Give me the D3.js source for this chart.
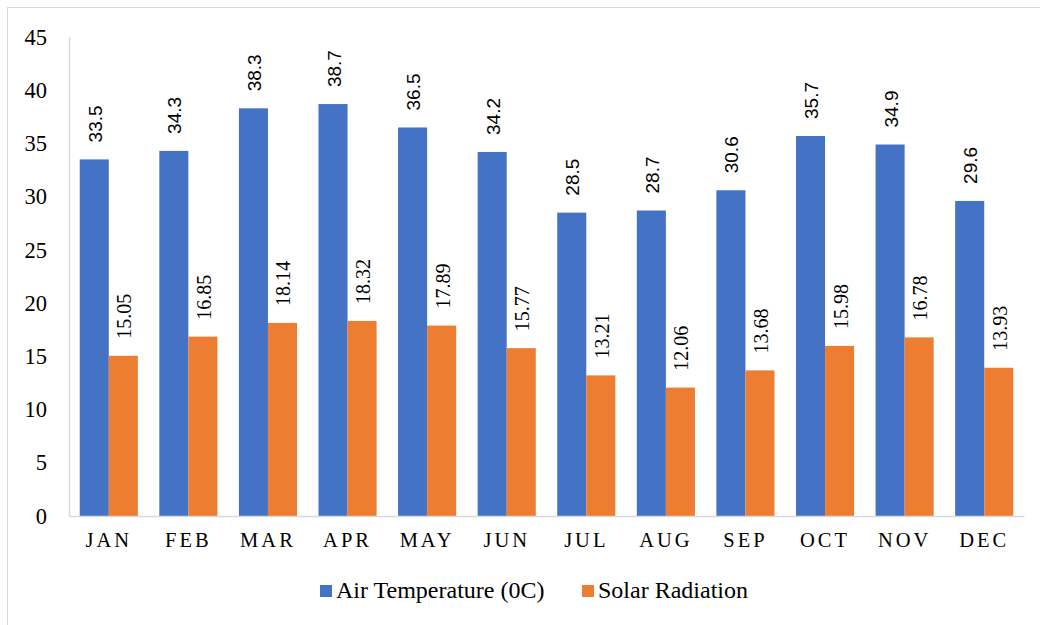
<!DOCTYPE html>
<html>
<head>
<meta charset="utf-8">
<script src="https://cdn.jsdelivr.net/npm/d3@7"></script>
<style>
  html, body { margin: 0; padding: 0; background: #fff; }
  svg { display: block; }
</style>
</head>
<body>
<svg id="chart" width="1040" height="625"></svg>
<script>
// Monthly air temperature and solar radiation
const months = ["JAN", "FEB", "MAR", "APR", "MAY", "JUN", "JUL", "AUG", "SEP", "OCT", "NOV", "DEC"];
const airTemperature = [33.5, 34.3, 38.3, 38.7, 36.5, 34.2, 28.5, 28.7, 30.6, 35.7, 34.9, 29.6];
const solarRadiation = [15.05, 16.85, 18.14, 18.32, 17.89, 15.77, 13.21, 12.06, 13.68, 15.98, 16.78, 13.93];
const yTicks = [0, 5, 10, 15, 20, 25, 30, 35, 40, 45];
const seriesNames = ["Air Temperature (0C)", "Solar Radiation"];
const seriesColors = ["#4472C4", "#ED7D31"];

const serif = "'Liberation Serif', 'Times New Roman', serif";
const sans = "'Liberation Sans', Arial, sans-serif";
// value label style per series
const labelFonts = [{ family: sans, size: 19, fmt: d3.format(".1f") },
                    { family: serif, size: 20, fmt: d3.format(".2f") }];

const svg = d3.select("#chart");
const W = 1040, H = 625;
const plot = { left: 69, right: 1024, top: 37, bottom: 516 };

// outer frame
svg.append("rect")
  .attr("x", 7.5).attr("y", 7.5)
  .attr("width", W).attr("height", H)
  .attr("fill", "#fff")
  .attr("stroke", "#d9d9d9").attr("stroke-width", 1);

const x = d3.scaleBand()
  .domain(months)
  .range([plot.left, plot.right])
  .paddingInner(0.27)
  .paddingOuter(0.135);

const xSub = d3.scaleBand()
  .domain([0, 1])
  .range([0, x.bandwidth()]);

const y = d3.scaleLinear()
  .domain([0, 45])
  .range([plot.bottom, plot.top]);

// y axis labels (no ticks, no grid)
const yAxis = svg.append("g")
  .attr("transform", `translate(${plot.left},0)`)
  .call(d3.axisLeft(y).tickValues(yTicks).tickSize(0).tickPadding(22).tickFormat(d3.format("d")));
yAxis.select(".domain").attr("stroke", "#d9d9d9").attr("stroke-width", 1.5);
yAxis.selectAll("text")
  .attr("font-family", serif)
  .attr("font-size", 22.5)
  .attr("fill", "#000");

const rows = months.map((m, i) => ({ month: m, values: [airTemperature[i], solarRadiation[i]] }));

const groups = svg.append("g").selectAll("g")
  .data(rows)
  .join("g")
  .attr("transform", d => `translate(${x(d.month)},0)`);

groups.selectAll("rect")
  .data(d => d.values.map((v, k) => ({ v, k })))
  .join("rect")
  .attr("x", d => xSub(d.k))
  .attr("width", xSub.bandwidth())
  .attr("y", d => y(d.v))
  .attr("height", d => y(0) - y(d.v))
  .attr("fill", d => seriesColors[d.k]);

// value labels, rotated
groups.selectAll("text.value")
  .data(d => d.values.map((v, k) => ({ v, k })))
  .join("text")
  .attr("class", "value")
  .attr("transform", d => `translate(${xSub(d.k) + xSub.bandwidth() / 2 + 1},${y(d.v) - 17}) rotate(-90)`)
  .attr("dominant-baseline", "central")
  .attr("text-anchor", "start")
  .attr("font-family", d => labelFonts[d.k].family)
  .attr("font-size", d => labelFonts[d.k].size)
  .attr("fill", "#000")
  .text(d => labelFonts[d.k].fmt(d.v));

// x axis
const xAxis = svg.append("g")
  .attr("transform", `translate(0,${plot.bottom})`)
  .call(d3.axisBottom(x).tickSize(0).tickPadding(16));
xAxis.select(".domain").attr("stroke", "#d9d9d9").attr("stroke-width", 1.5);
xAxis.selectAll("text")
  .attr("font-family", serif)
  .attr("font-size", 20.5)
  .attr("letter-spacing", "3px")
  .attr("fill", "#000");

// legend
const legendItems = [
  { name: seriesNames[0], color: seriesColors[0], x: 320 },
  { name: seriesNames[1], color: seriesColors[1], x: 582 }
];
const legend = svg.append("g").selectAll("g")
  .data(legendItems)
  .join("g")
  .attr("transform", d => `translate(${d.x},585)`);
legend.append("rect")
  .attr("width", 12).attr("height", 12)
  .attr("fill", d => d.color);
legend.append("text")
  .attr("x", 16).attr("y", 13)
  .attr("font-family", serif)
  .attr("font-size", 24)
  .attr("fill", "#000")
  .text(d => d.name);
</script>
</body>
</html>
